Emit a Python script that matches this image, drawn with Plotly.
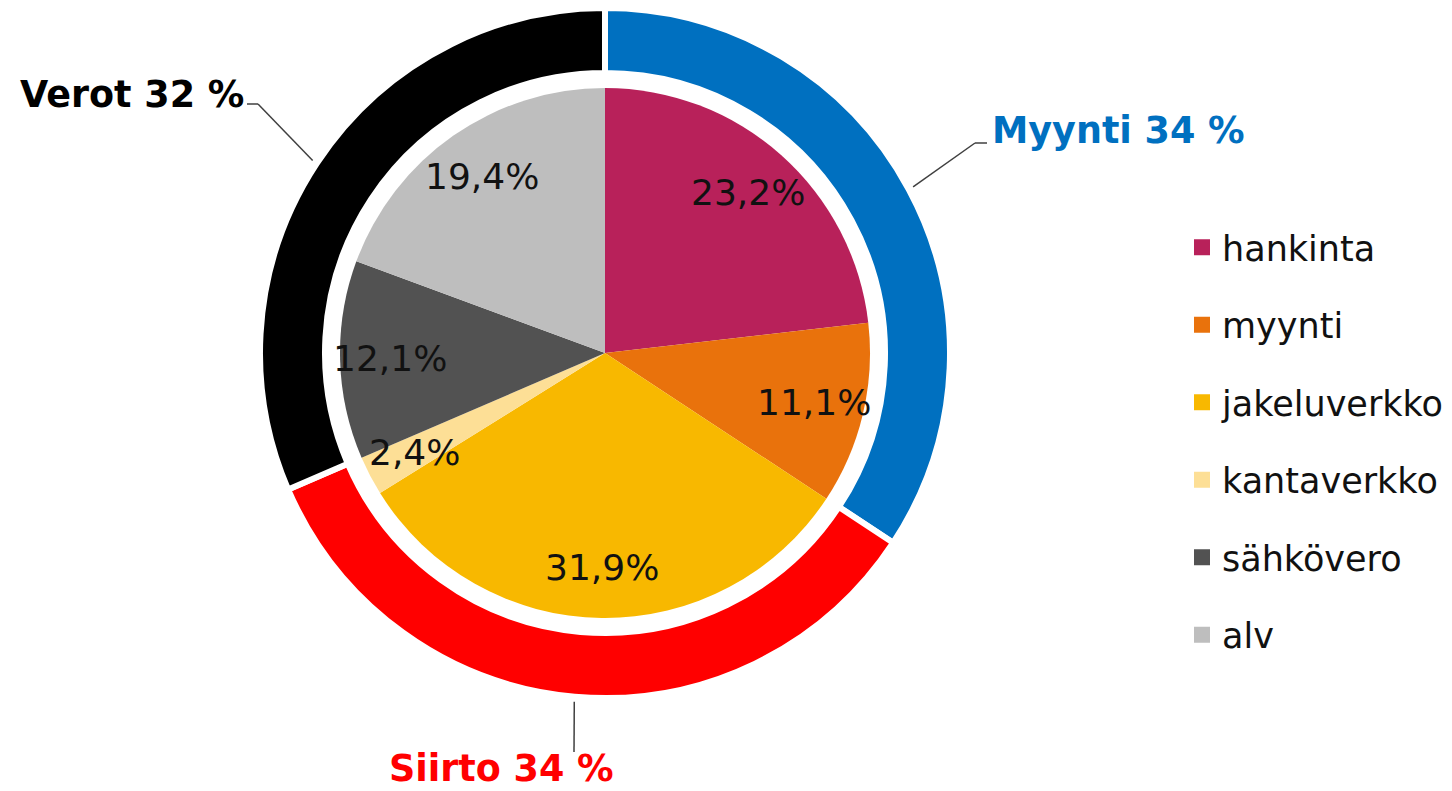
import numpy as np
import plotly.graph_objects as go

W, H = 1452, 791

# ---- data ----
inner_labels = ["hankinta", "myynti", "jakeluverkko", "kantaverkko", "sähkövero", "alv"]
inner_values = [23.2, 11.1, 31.9, 2.4, 12.1, 19.4]
inner_text = ["23,2%", "11,1%", "31,9%", "2,4%", "12,1%", "19,4%"]
inner_colors = ["#B8215A", "#E9720C", "#F8B800", "#FDDF96", "#525252", "#BEBEBE"]

outer_labels = ["Myynti", "Siirto", "Verot"]
outer_values = [34.3, 34.3, 31.5]
outer_text = ["Myynti 34 %", "Siirto 34 %", "Verot 32 %"]
outer_colors = ["#0070C0", "#FF0000", "#000000"]

# ---- geometry (pixels) ----
cx, cy = 605, 353
R_out = 345
R_hole = 280
R_in = 265


def dom(r):
    return dict(x=[(cx - r) / W, (cx + r) / W], y=[(H - cy - r) / H, (H - cy + r) / H])


def px(x, y):
    return x / W, 1 - y / H


fig = go.Figure()

fig.add_trace(go.Pie(
    labels=outer_labels, values=outer_values, hole=R_hole / R_out,
    sort=False, direction="clockwise", rotation=0,
    marker=dict(colors=outer_colors, line=dict(color="white", width=6)),
    textinfo="none", showlegend=False, domain=dom(R_out), hoverinfo="label+percent",
))

fig.add_trace(go.Pie(
    labels=inner_labels, values=inner_values,
    sort=False, direction="clockwise", rotation=0,
    marker=dict(colors=inner_colors, line=dict(width=0)),
    textinfo="none", showlegend=False, domain=dom(R_in), hoverinfo="label+percent",
))

# legend entries
for lab, col in zip(inner_labels, inner_colors):
    fig.add_trace(go.Scatter(
        x=[None], y=[None], mode="markers", name=lab, legendgroup=lab,
        marker=dict(symbol="square", size=19, color=col),
    ))

annotations = []
shapes = []

# inner percentage labels at slice mid-angles
vals = np.array(inner_values)
cum = np.cumsum(vals)
mids = (cum - vals / 2) / vals.sum() * 2 * np.pi
for t, th in zip(inner_text, mids):
    r = 0.81 * R_in
    x, y = px(cx + r * np.sin(th), cy - r * np.cos(th))
    annotations.append(dict(x=x, y=y, xref="paper", yref="paper", text=t, showarrow=False,
                            font=dict(family="DejaVu Sans", size=36, color="#111111"),
                            xanchor="center", yanchor="middle"))

# outer labels with leader lines
ov = np.array(outer_values)
ocum = np.cumsum(ov)
omids = (ocum - ov / 2) / ov.sum() * 2 * np.pi
label_pos = [  # (elbow point, end point, text anchor x, y, xanchor)
    ((975, 143), (987, 143), 990, 131, "left"),
    ((574, 752), (574, 752), 501, 768, "center"),
    ((258, 104), (247, 104), 246, 94, "right"),
]
for (t, col, th, (elb, end, tx, ty, xa)) in zip(outer_text, outer_colors, omids, label_pos):
    r = 350
    sx, sy = cx + r * np.sin(th), cy - r * np.cos(th)
    pts = [(sx, sy), elb, end]
    for a, b in zip(pts[:-1], pts[1:]):
        if a == b:
            continue
        x0, y0 = px(*a)
        x1, y1 = px(*b)
        shapes.append(dict(type="line", xref="paper", yref="paper", x0=x0, y0=y0, x1=x1, y1=y1,
                           line=dict(color="#404040", width=1.5)))
    x, y = px(tx, ty)
    annotations.append(dict(x=x, y=y, xref="paper", yref="paper", text=f"<b>{t}</b>", showarrow=False,
                            font=dict(family="DejaVu Sans", size=36.5, color=col),
                            xanchor=xa, yanchor="middle"))

fig.update_layout(
    width=W, height=H,
    margin=dict(l=0, r=0, t=0, b=0),
    paper_bgcolor="white", plot_bgcolor="white",
    xaxis=dict(visible=False), yaxis=dict(visible=False),
    annotations=annotations, shapes=shapes,
    legend=dict(x=1182 / W, y=1 - 218 / H, xanchor="left", yanchor="top",
                font=dict(family="DejaVu Sans", size=35, color="#111111"),
                tracegroupgap=29, itemclick=False, bgcolor="rgba(0,0,0,0)"),
)

fig.write_html("out.html", config={"displayModeBar": False},
               post_script="document.body.style.margin='0';document.body.style.overflow='hidden';")
